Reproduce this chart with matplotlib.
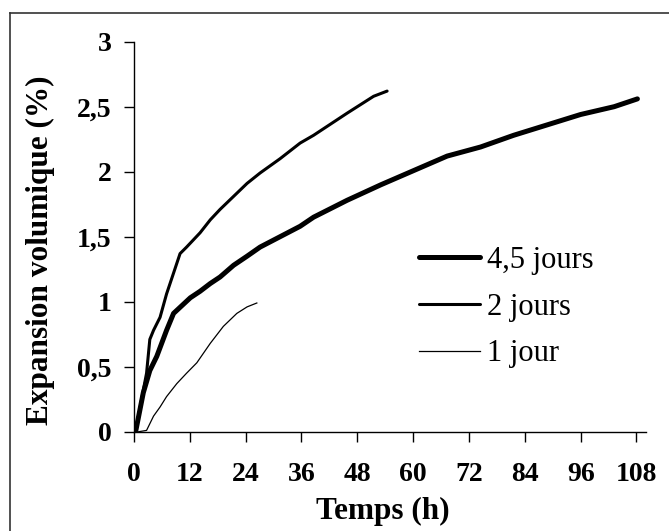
import matplotlib.pyplot as plt
from matplotlib.lines import Line2D

# data (time in h, expansion in %)
t_45 = [0, 0.4, 2.0, 3.4, 4.9, 7.0, 8.5, 10.3, 12.1, 14.2, 16.4, 18.5, 21.4, 24.3,
        27.1, 31.4, 35.7, 38.6, 45.8, 53.1, 60.2, 67.3, 74.5, 81.6, 88.8, 96.0,
        103.2, 108.2]
v_45 = [0, 0.01, 0.30, 0.47, 0.58, 0.78, 0.91, 0.97, 1.03, 1.08, 1.14, 1.19, 1.28,
        1.35, 1.42, 1.50, 1.58, 1.65, 1.78, 1.90, 2.01, 2.12, 2.19, 2.28, 2.36, 2.44,
        2.50, 2.56]

t_2 = [0, 0.4, 2.0, 2.7, 3.4, 4.2, 5.6, 7.0, 8.5, 9.9, 11.3, 14.2, 16.4, 18.5, 21.4,
       24.3, 27.1, 31.4, 35.7, 38.6, 45.8, 51.5, 54.4]
v_2 = [0, 0.01, 0.32, 0.45, 0.71, 0.78, 0.88, 1.06, 1.22, 1.37, 1.42, 1.53, 1.63,
       1.71, 1.81, 1.91, 1.99, 2.10, 2.22, 2.28, 2.45, 2.58, 2.62]

t_1 = [1.0, 2.7, 4.2, 5.6, 7.0, 9.2, 11.3, 13.5, 16.4, 19.2, 22.1, 24.3, 26.4]
v_1 = [0, 0.01, 0.12, 0.19, 0.27, 0.37, 0.45, 0.53, 0.68, 0.81, 0.91, 0.96, 0.99]

x_ticks = [0, 12, 24, 36, 48, 60, 72, 84, 96, 108]
y_ticks = [0, 0.5, 1, 1.5, 2, 2.5, 3]
y_labels = ['0', '0,5', '1', '1,5', '2', '2,5', '3']

plt.rcParams['font.family'] = ['Liberation Serif', 'DejaVu Serif']

fig = plt.figure(figsize=(6.69, 5.31), dpi=100)
ax = fig.add_axes([0.2003, 0.187, 0.765, 0.7345])

ax.plot(t_45, v_45, color='black', lw=3.6, solid_capstyle='round', label='4,5 jours')
ax.plot(t_2, v_2, color='black', lw=2.2, solid_capstyle='round', label='2 jours')
ax.plot(t_1, v_1, color='black', lw=0.9, label='1 jour')

ax.set_xlim(0, 110)
ax.set_ylim(0, 3)
ax.set_xticks(x_ticks)
ax.set_xticklabels([str(x) for x in x_ticks], fontsize=20, fontweight='bold')
ax.set_yticks(y_ticks)
ax.set_yticklabels(y_labels, fontsize=20, fontweight='bold')
ax.tick_params(axis='x', direction='out', length=7, width=1, pad=15)
ax.tick_params(axis='y', direction='out', length=7, width=1, pad=9)

for side in ['top', 'right']:
    ax.spines[side].set_visible(False)
for side in ['left', 'bottom']:
    ax.spines[side].set_linewidth(1)

ax.set_xlabel('Temps (h)', fontsize=22.5, fontweight='bold')
ax.xaxis.set_label_coords(0.487, -0.168)
ax.set_ylabel('Expansion volumique (%)', fontsize=22.5, fontweight='bold')
ax.yaxis.set_label_coords(-0.155, 0.465)

ax.legend(loc='upper left', bbox_to_anchor=(0.556, 0.476), frameon=False,
          fontsize=22, handlelength=2.0, handletextpad=0.25, labelspacing=0.58,
          borderpad=0, borderaxespad=0)

# frame around the whole chart (only top and left fall inside the picture)
fig.add_artist(Line2D([0.015, 1.0], [0.9755, 0.9755], color='#333333', lw=1.2))
fig.add_artist(Line2D([0.015, 0.015], [0.0, 0.9755], color='#333333', lw=1.2))

fig.savefig('out.png', dpi=100, facecolor='white')
